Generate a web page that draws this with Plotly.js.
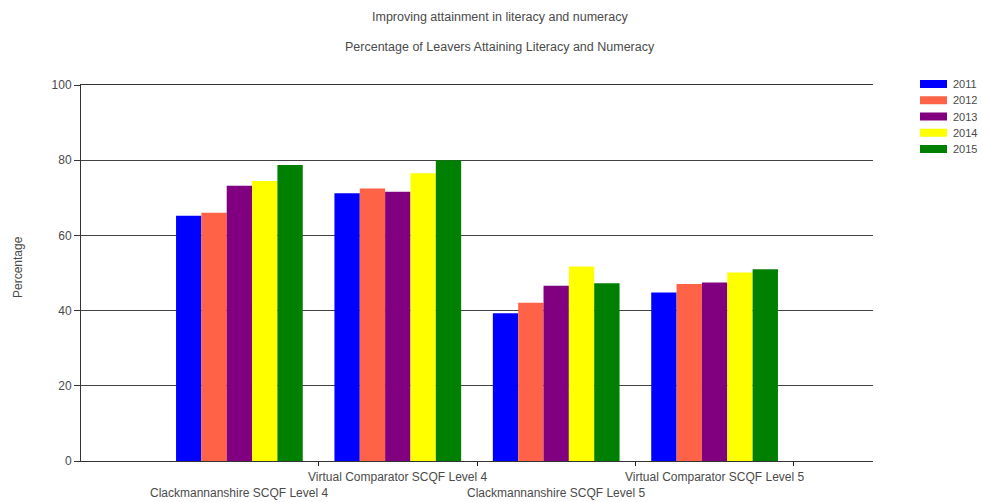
<!DOCTYPE html>
<html>
<head>
<meta charset="utf-8">
<script src="https://cdn.plot.ly/plotly-3.0.1.min.js"></script>
<style>html,body{margin:0;padding:0;background:#fff;}#chart{width:982px;height:502px;}</style>
</head>
<body>
<div id="chart"></div>
<script>
const categories = ["Clackmannanshire SCQF Level 4", "Virtual Comparator SCQF Level 4", "Clackmannanshire SCQF Level 5", "Virtual Comparator SCQF Level 5"];
const years = ["2011", "2012", "2013", "2014", "2015"];
const colors = ["#0000FF", "#FF6347", "#800080", "#FFFF00", "#008000"];
const v2011 = [65.2, 71.2, 39.3, 44.8];
const v2012 = [66.0, 72.5, 42.1, 47.1];
const v2013 = [73.2, 71.6, 46.6, 47.5];
const v2014 = [74.5, 76.5, 51.7, 50.1];
const v2015 = [78.7, 80.0, 47.3, 51.0];
const series = [v2011, v2012, v2013, v2014, v2015];
const yTicks = [0, 20, 40, 60, 80, 100];

const W = 982, H = 502;
const M = {l: 81, r: 109, t: 85, b: 41};
const pw = W - M.l - M.r, ph = H - M.t - M.b;
const px2x = p => (p - M.l) / pw;
const px2y = p => (H - M.b - p) / ph;

const xIdx = categories.map((c, i) => i);
const traces = series.map((vals, k) => ({
  type: 'bar',
  name: years[k],
  x: xIdx,
  y: vals,
  marker: {color: colors[k], line: {width: 0}},
  showlegend: false,
  hoverinfo: 'y'
}));

const fam = 'Liberation Sans, Arial, sans-serif';
const txtColor = '#4a4a4a';
const annotations = [
  {text: 'Improving attainment in literacy and numeracy', xref: 'paper', yref: 'paper', x: px2x(500), y: px2y(17), showarrow: false, font: {family: fam, size: 12.5, color: txtColor}, xanchor: 'center', yanchor: 'middle'},
  {text: 'Percentage of Leavers Attaining Literacy and Numeracy', xref: 'paper', yref: 'paper', x: px2x(500), y: px2y(47), showarrow: false, font: {family: fam, size: 12.5, color: txtColor}, xanchor: 'center', yanchor: 'middle'},
  {text: 'Percentage', xref: 'paper', yref: 'paper', x: px2x(18), y: px2y(267), textangle: -90, showarrow: false, font: {family: fam, size: 12, color: txtColor}, xanchor: 'center', yanchor: 'middle'}
];
categories.forEach((c, i) => {
  annotations.push({text: c, xref: 'x', yref: 'paper', x: i, y: 0, yshift: (i % 2 === 0) ? -32 : -16, showarrow: false, font: {family: fam, size: 12, color: txtColor}, xanchor: 'center', yanchor: 'middle'});
});

// legend drawn as swatches + labels
const shapes = [];
years.forEach((yr, k) => {
  const yc = 84 + k * 16.25;
  shapes.push({type: 'rect', xref: 'paper', yref: 'paper', x0: px2x(920), x1: px2x(947), y0: px2y(yc + 4), y1: px2y(yc - 4), fillcolor: colors[k], line: {width: 0}});
  annotations.push({text: yr, xref: 'paper', yref: 'paper', x: px2x(951), y: px2y(yc), showarrow: false, font: {family: fam, size: 11, color: txtColor}, xanchor: 'left', yanchor: 'middle'});
});

const layout = {
  width: W, height: H,
  margin: {l: M.l, r: M.r, t: M.t, b: M.b, autoexpand: false},
  paper_bgcolor: '#fff', plot_bgcolor: '#fff',
  barmode: 'group', bargap: 0.2, bargroupgap: 0,
  font: {family: fam, size: 11, color: txtColor},
  showlegend: false,
  xaxis: {
    range: [-1, 4], tickvals: [0.5, 1.5, 2.5, 3.5], showticklabels: false,
    ticks: 'outside', ticklen: 4, tickcolor: '#222', showgrid: false, zeroline: false,
    showline: true, mirror: true, linecolor: '#333', linewidth: 1
  },
  yaxis: {
    range: [0, 100], tickvals: yTicks, ticks: 'outside', ticklen: 6, tickcolor: '#333',
    showgrid: true, gridcolor: '#444', gridwidth: 1, zeroline: false,
    showline: true, linecolor: '#333', linewidth: 1,
    tickfont: {family: fam, size: 12, color: txtColor}
  },
  annotations: annotations,
  shapes: shapes
};

Plotly.newPlot('chart', traces, layout, {displayModeBar: false, staticPlot: true});
</script>
</body>
</html>
